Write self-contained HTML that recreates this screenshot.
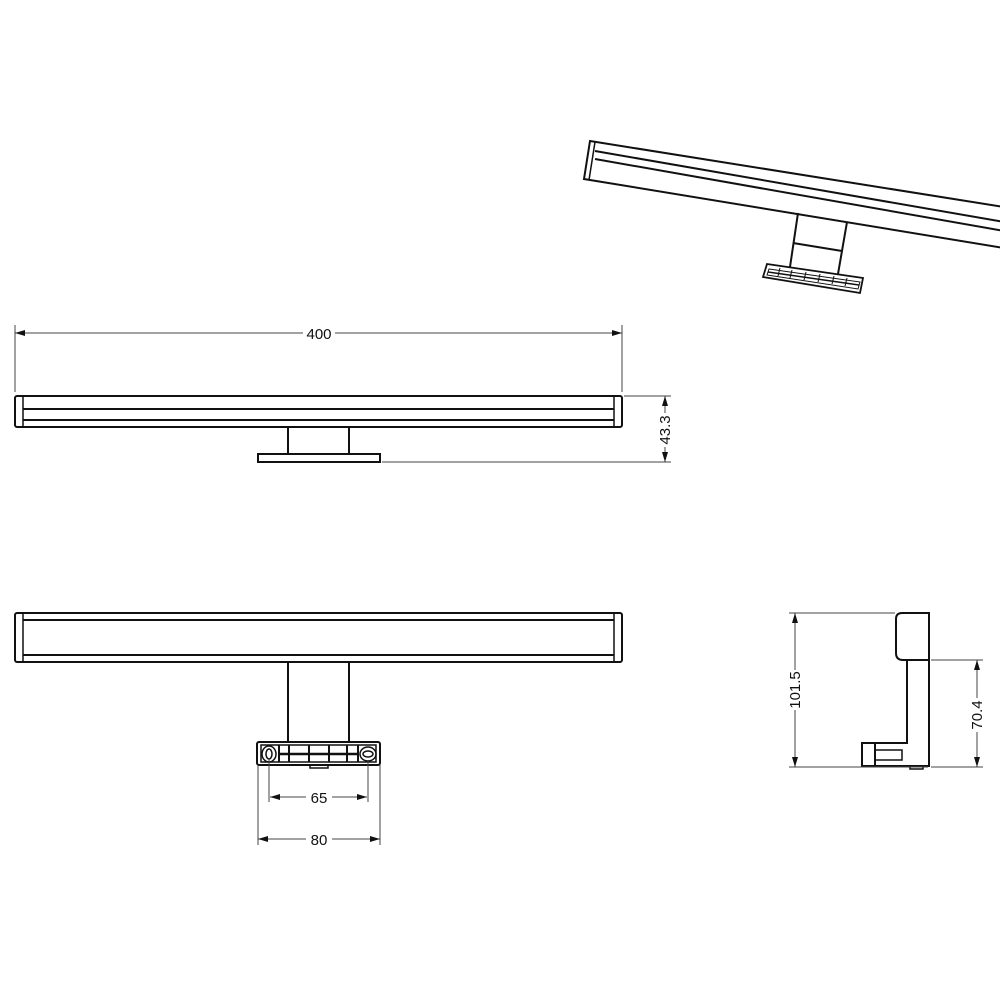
<!DOCTYPE html>
<html><head><style>html,body{margin:0;padding:0;background:#fff}svg{display:block}</style></head><body>
<svg width="1000" height="1000" viewBox="0 0 1000 1000" xmlns="http://www.w3.org/2000/svg">
<defs>
<marker id="a" viewBox="0 0 10 6" refX="10" refY="3" markerWidth="10" markerHeight="6" orient="auto-start-reverse" markerUnits="userSpaceOnUse"><path d="M0,0 L10,3 L0,6 z" fill="#111"/></marker>
</defs>
<g fill="none" stroke="#111" stroke-width="2">
<rect x="15" y="396" width="607" height="31" rx="2"/>
<line x1="23" y1="396" x2="23" y2="427" stroke-width="1.5"/>
<line x1="614" y1="396" x2="614" y2="427" stroke-width="1.5"/>
<line x1="23" y1="409" x2="614" y2="409"/>
<line x1="23" y1="420" x2="614" y2="420"/>
<line x1="288" y1="427" x2="288" y2="454"/>
<line x1="349" y1="427" x2="349" y2="454"/>
<rect x="258" y="454" width="122" height="8"/>
</g>
<g stroke="#444" stroke-width="1" fill="none">
<line x1="15" y1="325" x2="15" y2="392"/>
<line x1="622" y1="325" x2="622" y2="392"/>
<line x1="15" y1="333" x2="622" y2="333" marker-start="url(#a)" marker-end="url(#a)"/>
<line x1="624" y1="396" x2="671" y2="396"/>
<line x1="382" y1="462" x2="671" y2="462"/>
<line x1="665" y1="396" x2="665" y2="462" marker-start="url(#a)" marker-end="url(#a)"/>
</g>
<g font-family="Liberation Sans, sans-serif" font-size="15" fill="#111" text-anchor="middle">
<rect x="303" y="325" width="32" height="16" fill="#fff"/>
<text x="319" y="339">400</text>
<g transform="translate(665,430) rotate(-90)"><rect x="-17" y="-8" width="34" height="16" fill="#fff"/><text x="0" y="5">43.3</text></g>
</g>
<g fill="none" stroke="#111" stroke-width="2">
<rect x="15" y="613" width="607" height="49" rx="2"/>
<line x1="23" y1="613" x2="23" y2="662" stroke-width="1.5"/>
<line x1="614" y1="613" x2="614" y2="662" stroke-width="1.5"/>
<line x1="23" y1="620" x2="614" y2="620"/>
<line x1="23" y1="655" x2="614" y2="655"/>
<line x1="288" y1="662" x2="288" y2="742"/>
<line x1="349" y1="662" x2="349" y2="742"/>
<rect x="257" y="742" width="123" height="23" rx="2"/>
<rect x="261" y="745" width="115" height="17" stroke-width="1.5"/>
<line x1="279" y1="754" x2="358" y2="754" stroke-width="2.5"/>
<line x1="289" y1="745" x2="289" y2="762"/>
<line x1="309" y1="745" x2="309" y2="762"/>
<line x1="329" y1="745" x2="329" y2="762"/>
<line x1="347" y1="745" x2="347" y2="762"/>
<line x1="279" y1="745" x2="279" y2="762"/>
<line x1="358" y1="745" x2="358" y2="762"/>
<ellipse cx="269" cy="754" rx="7" ry="8" stroke-width="1.5"/>
<ellipse cx="269" cy="754" rx="3" ry="5" stroke-width="1.5"/>
<ellipse cx="368" cy="754" rx="8" ry="7" stroke-width="1.5"/>
<ellipse cx="368" cy="754" rx="5" ry="3" stroke-width="1.5"/>
<rect x="310" y="765" width="18" height="3" stroke-width="1.5"/>
</g>
<g stroke="#444" stroke-width="1" fill="none">
<line x1="269" y1="760" x2="269" y2="802"/>
<line x1="368" y1="760" x2="368" y2="802"/>
<line x1="270" y1="797" x2="367" y2="797" marker-start="url(#a)" marker-end="url(#a)"/>
<line x1="258" y1="765" x2="258" y2="845"/>
<line x1="380" y1="765" x2="380" y2="845"/>
<line x1="258" y1="839" x2="380" y2="839" marker-start="url(#a)" marker-end="url(#a)"/>
</g>
<g font-family="Liberation Sans, sans-serif" font-size="15" fill="#111" text-anchor="middle">
<rect x="306" y="789" width="26" height="16" fill="#fff"/>
<text x="319" y="803">65</text>
<rect x="306" y="831" width="26" height="16" fill="#fff"/>
<text x="319" y="845">80</text>
</g>
<g fill="none" stroke="#111" stroke-width="2">
<path d="M929,613 L902,613 Q896,613 896,619 L896,653 Q896,660 903,660 L929,660 Z"/>
<path d="M907,660 L907,743 L862,743 L862,766 L929,766 L929,660"/>
<line x1="875" y1="743" x2="875" y2="766"/>
<rect x="875" y="750" width="27" height="10" stroke-width="1.5"/>
<rect x="910" y="766" width="13" height="3" stroke-width="1.5"/>
</g>
<g stroke="#444" stroke-width="1" fill="none">
<line x1="789" y1="613" x2="895" y2="613"/>
<line x1="789" y1="767" x2="928" y2="767"/>
<line x1="795" y1="613" x2="795" y2="767" marker-start="url(#a)" marker-end="url(#a)"/>
<line x1="931" y1="660" x2="983" y2="660"/>
<line x1="931" y1="767" x2="983" y2="767"/>
<line x1="977" y1="660" x2="977" y2="767" marker-start="url(#a)" marker-end="url(#a)"/>
</g>
<g font-family="Liberation Sans, sans-serif" font-size="15" fill="#111" text-anchor="middle">
<g transform="translate(795,690) rotate(-90)"><rect x="-20" y="-8" width="40" height="16" fill="#fff"/><text x="0" y="5">101.5</text></g>
<g transform="translate(977,715) rotate(-90)"><rect x="-17" y="-8" width="34" height="16" fill="#fff"/><text x="0" y="5">70.4</text></g>
</g>
<g fill="none" stroke="#111" stroke-width="2">
<polygon points="590,141 1010,208 1010,249 584,179"/>
<line x1="595" y1="142" x2="589" y2="180" stroke-width="1.5"/>
<line x1="595" y1="151" x2="1010" y2="223"/>
<line x1="595" y1="159" x2="1010" y2="232"/>
<polyline points="798,213 790,267"/>
<polyline points="847,222 838,274"/>
<line x1="793" y1="243" x2="842" y2="251"/>
<polygon points="767,264 863,278 860,293 763,277" stroke-width="1.8"/>
<polygon points="769,269 860,282 858,289 767,275" stroke-width="1"/>
<line x1="768" y1="272" x2="859" y2="285" stroke-width="1.5"/>
<line x1="780" y1="268" x2="778" y2="276" stroke-width="1"/>
<line x1="792" y1="270" x2="790" y2="278" stroke-width="1"/>
<line x1="806" y1="272" x2="804" y2="280" stroke-width="1"/>
<line x1="820" y1="274" x2="818" y2="282" stroke-width="1"/>
<line x1="834" y1="276" x2="832" y2="284" stroke-width="1"/>
<line x1="847" y1="278" x2="845" y2="286" stroke-width="1"/>
</g>
</svg>
</body></html>
